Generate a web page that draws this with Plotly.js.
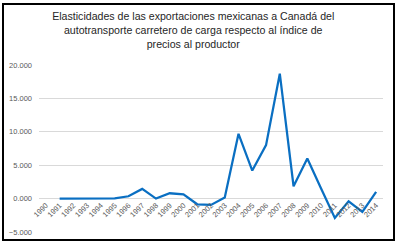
<!DOCTYPE html>
<html>
<head>
<meta charset="utf-8">
<script src="https://cdn.plot.ly/plotly-3.0.1.min.js"></script>
<style>
html,body{margin:0;padding:0;background:#fff;}
#wrap{position:relative;width:396px;height:247px;}
#chart{position:absolute;left:0;top:0;width:396px;height:247px;}
#frame{position:absolute;left:2px;top:3px;width:389px;height:234px;border:2px solid #000;pointer-events:none;}
</style>
</head>
<body>
<div id="wrap"><div id="chart"></div><div id="frame"></div></div>
<script>
const years = ["1990","1991","1992","1993","1994","1995","1996","1997","1998","1999","2000","2001","2002","2003","2004","2005","2006","2007","2008","2009","2010","2011","2012","2013","2014"];
const elasticidades = [null,0.0,0.02,0.03,0.04,0.05,0.35,1.45,0.0,0.8,0.65,-0.85,-0.95,0.15,9.7,4.2,8.0,18.7,1.85,6.0,1.5,-2.9,-0.4,-2.0,1.0];
const yTicks = [-5,0,5,10,15,20];
const titleText = "Elasticidades de las exportaciones mexicanas a Canadá del<br>autotransporte carretero de carga respecto al índice de<br>precios al productor";

const trace = {
  x: years, y: elasticidades, type: 'scatter', mode: 'lines',
  line: {color: '#0a6fc2', width: 2.25}, connectgaps: false, hoverinfo: 'skip'
};
const layout = {
  width: 396, height: 247,
  margin: {l: 39, r: 13, t: 65, b: 15, pad: 0},
  paper_bgcolor: '#fff', plot_bgcolor: '#fff',
  font: {family: 'Liberation Sans, Arial, sans-serif', color: '#595959'},
  showlegend: false,
  title: {
    text: titleText, xref: 'container', x: 0.488, xanchor: 'center',
    yref: 'container', y: 0.918, yanchor: 'top',
    font: {family: 'Liberation Sans, Arial, sans-serif', size: 10.6, color: '#262626'}
  },
  xaxis: {
    type: 'category', categoryarray: years, range: [-0.5, 24.5],
    anchor: 'free', position: 0.2,
    showgrid: false, zeroline: false, showline: false,
    ticks: '', tickangle: -45,
    tickfont: {size: 7.5, color: '#595959'}
  },
  yaxis: {
    range: [-5, 20], tickvals: yTicks, tickformat: '.3f',
    showgrid: true, gridcolor: '#d9d9d9', gridwidth: 1,
    zeroline: false, showline: false, ticks: '',
    ticklabelstandoff: 6,
    tickfont: {size: 7.5, color: '#595959'}
  }
};
Plotly.newPlot('chart', [trace], layout, {staticPlot: true, displayModeBar: false});
</script>
</body>
</html>
